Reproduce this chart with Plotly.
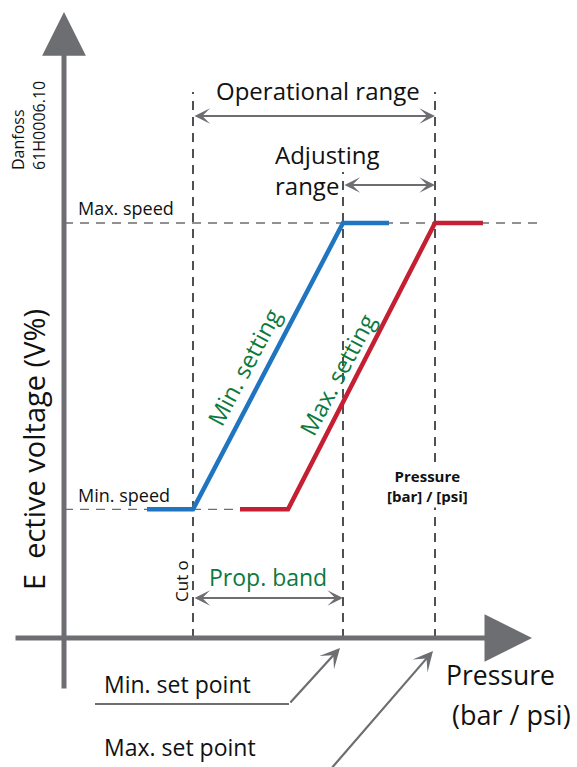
import plotly.graph_objects as go

# ---------------- data (pressure units / voltage %) ----------------
min_setting_p = [1.66, 2.58, 5.58, 6.50]
min_setting_v = [31, 31, 100, 100]
max_setting_p = [3.52, 4.48, 7.42, 8.38]
max_setting_v = [31, 31, 100, 100]

cut_off_p = 2.58
min_set_point_p = 5.58
max_set_point_p = 7.42
min_speed_v = 31
max_speed_v = 100

# ---------------- layout helpers (pixel -> data) ----------------
W, H = 577, 767
X0, Y0 = 64, 638          # pixel position of origin
SX, SY = 50.0, 4.15       # pixels per unit


def X(px):
    return (px - X0) / SX


def Y(py):
    return (Y0 - py) / SY


GRAY = "#6d6e71"
DASH = "#333333"
BLUE = "#1f75c0"
RED = "#c41f33"
GREEN = "#0b7a3e"
INK = "#111111"
FONT = "Open Sans"

fig = go.Figure()

# horizontal dashed reference lines
fig.add_trace(go.Scatter(x=[0, X(537)], y=[max_speed_v, max_speed_v], mode="lines",
                         line=dict(color=GRAY, width=1.4, dash="9px,7px"), hoverinfo="skip"))
fig.add_trace(go.Scatter(x=[0, max_setting_p[0]], y=[min_speed_v, min_speed_v], mode="lines",
                         line=dict(color=GRAY, width=1.4, dash="9px,7px"), hoverinfo="skip"))

# vertical dashed lines
for p, top in [(cut_off_p, Y(92)), (min_set_point_p, Y(172)), (max_set_point_p, Y(92))]:
    fig.add_trace(go.Scatter(x=[p, p], y=[0, top], mode="lines",
                             line=dict(color=DASH, width=1.7, dash="9px,7px"), hoverinfo="skip"))

# settings curves
fig.add_trace(go.Scatter(x=min_setting_p, y=min_setting_v, mode="lines",
                         line=dict(color=BLUE, width=4.5), hoverinfo="skip"))
fig.add_trace(go.Scatter(x=max_setting_p, y=max_setting_v, mode="lines",
                         line=dict(color=RED, width=4.5), hoverinfo="skip"))

# leader for "Min. set point"
fig.add_trace(go.Scatter(x=[X(95), X(289)], y=[Y(704), Y(704)], mode="lines",
                         line=dict(color=GRAY, width=2.2), hoverinfo="skip"))

ann = []


def arrow(x, y, ax, ay, width, size, head=3, both=False):
    ann.append(dict(x=x, y=y, ax=ax, ay=ay, xref="x", yref="y", axref="x", ayref="y",
                    text="", showarrow=True, arrowhead=head, arrowsize=size,
                    arrowwidth=width, arrowcolor=GRAY,
                    arrowside="end+start" if both else "end", startarrowhead=head,
                    startarrowsize=size, standoff=0, startstandoff=0))


# main axes
arrow(0, Y(12), 0, Y(690), 5, 1.75, head=2)
arrow(X(532), 0, X(14), 0, 5, 1.9, head=2)

# range arrows
arrow(max_set_point_p, Y(116), cut_off_p, Y(116), 2, 1.3, both=True)
arrow(max_set_point_p, Y(185), min_set_point_p, Y(185), 2, 1.3, both=True)
arrow(min_set_point_p, Y(598), cut_off_p, Y(598), 2, 1.3, both=True)

# set point pointers
arrow(X(340), Y(648), X(289), Y(704), 2.2, 1.5)
arrow(X(433), Y(651), X(330), Y(770), 2.2, 1.5)


def text(t, px, py, size, color=INK, angle=0, xanchor="center", yanchor="middle",
         align="center", bold=False, bg=None, family=FONT):
    d = dict(x=X(px), y=Y(py), xref="x", yref="y", text=(f"<b>{t}</b>" if bold else t),
             showarrow=False, textangle=angle, xanchor=xanchor, yanchor=yanchor, align=align,
             font=dict(family=family, size=size, color=color))
    if bg:
        d["bgcolor"] = bg
    ann.append(d)


text("Danfoss<br>61H0006.10", 28, 126, 16, angle=-90, align="left")
text("Max. speed", 76, 208, 18, xanchor="left")
text("Min. speed", 76, 495, 18, xanchor="left")
text("Operational range", 318, 90, 24)
text("Adjusting<br>range", 273, 170, 24, xanchor="left", align="left")
text("Min. setting", 244, 367, 23.5, color=GREEN, angle=-62)
text("Max. setting", 337, 375, 23.5, color=GREEN, angle=-62)
text("E\u00a0\u00a0ective voltage (V%)", 33, 450, 29, angle=-90)
text("Cut o", 181, 581, 17, angle=-90)
text("Prop. band", 268, 577, 23, color=GREEN)
text("Pressure<br>[bar] / [psi]", 427, 486, 15, bold=True, bg="white")
text("Pressure", 444, 675, 26.5, xanchor="left")
text("(bar / psi)", 450, 714, 27, xanchor="left")
text("Min. set point", 102, 684, 23, xanchor="left")
text("Max. set point", 102, 747, 23, xanchor="left")

fig.update_layout(
    width=W, height=H, autosize=False,
    margin=dict(l=0, r=0, t=0, b=0, pad=0),
    paper_bgcolor="white", plot_bgcolor="white",
    showlegend=False,
    xaxis=dict(range=[X(0), X(W)], visible=False, fixedrange=True),
    yaxis=dict(range=[Y(H), Y(0)], visible=False, fixedrange=True),
    annotations=ann,
)

fig.write_html("out.html", config={"displayModeBar": False},
               post_script="document.body.style.margin='0';")
